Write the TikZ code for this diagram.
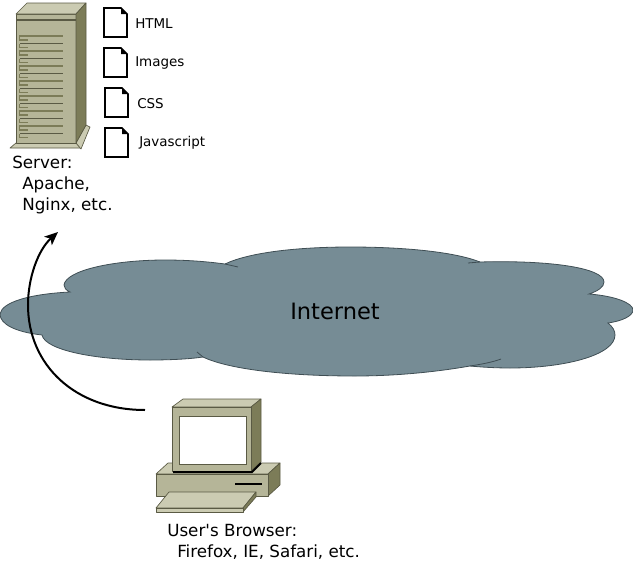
\documentclass[tikz,border=0pt]{standalone}
\usepackage{fontspec}
\setmainfont{DejaVu Sans}
\usepackage{tikz}
\usetikzlibrary{arrows.meta}
\definecolor{cloudgray}{HTML}{768C95}
\definecolor{cloudline}{HTML}{3F4E54}
\definecolor{boxfront}{HTML}{B5B598}
\definecolor{boxtop}{HTML}{CBCBB2}
\definecolor{boxside}{HTML}{7C7C58}
\definecolor{boxline}{HTML}{5A5A44}
\tikzset{
    front/.style={fill=boxfront, draw=boxline, line width=0.5pt, line join=round},
    top/.style={fill=boxtop, draw=boxline, line width=0.5pt, line join=round},
    side/.style={fill=boxside, draw=boxline, line width=0.5pt, line join=round},
    doc/.style={fill=white, draw=black, line width=1.3pt, line join=miter},
    biglabel/.style={anchor=north west, align=left, inner sep=0pt, font=\fontsize{12.55}{15.75}\selectfont},
    smalllabel/.style={anchor=west, inner sep=0pt, font=\fontsize{10.1}{12}\selectfont}
}
\begin{document}
\begin{tikzpicture}[x=0.75pt, y=-0.75pt]
    \useasboundingbox (0, 0) rectangle (633, 561);
    % cloud
    \draw[fill=cloudgray, draw=cloudline, line width=0.6pt]
        (0, 314) .. controls (2, 302) and (30, 294) .. (70, 292)
        .. controls (66, 290) and (64, 288) .. (64, 285)
        .. controls (66, 270) and (115, 260) .. (165, 260)
        .. controls (190, 260) and (210, 262) .. (225, 264)
        .. controls (250, 252) and (300, 247) .. (350, 247)
        .. controls (405, 247) and (455, 252) .. (480, 262)
        .. controls (550, 260) and (604, 268) .. (604, 282)
        .. controls (604, 287) and (598, 291) .. (589, 294)
        .. controls (615, 296) and (633, 303) .. (633, 310)
        .. controls (633, 316) and (622, 321) .. (608, 323)
        .. controls (613, 327) and (615, 331) .. (615, 335)
        .. controls (615, 355) and (565, 368) .. (510, 368)
        .. controls (495, 368) and (480, 367) .. (470, 366)
        .. controls (430, 373) and (390, 376) .. (355, 376)
        .. controls (285, 376) and (228, 369) .. (203, 357)
        .. controls (190, 359) and (170, 360) .. (150, 360)
        .. controls (95, 360) and (45, 350) .. (42, 335)
        .. controls (15, 332) and (0, 324) .. (0, 314) -- cycle;
    \draw[draw=cloudline, line width=0.6pt] (225, 264) -- (238, 267);
    \draw[draw=cloudline, line width=0.6pt] (480, 262) -- (468, 263);
    \draw[draw=cloudline, line width=0.6pt] (203, 357) -- (197, 352);
    \draw[draw=cloudline, line width=0.6pt] (470, 366) .. controls (483, 364) and (493, 362) .. (501, 359);
    \node[inner sep=0pt, font=\fontsize{16.9}{20}\selectfont] (internet) at (335, 311) {Internet};
    % server
    \draw[top] (10, 148) -- (16, 143) -- (76, 143) -- (81, 148) -- cycle;
    \draw[top] (76, 143) -- (86, 125) -- (90, 127) -- (81, 149) -- cycle;
    \draw[front] (16, 14) rectangle (76, 143);
    \draw[top] (16, 14) -- (27, 3) -- (86, 3) -- (76, 14) -- cycle;
    \draw[side] (76, 14) -- (86, 3) -- (86, 125) -- (76, 143) -- cycle;
    \draw[boxline, line width=1.2pt] (16, 20) -- (76, 20);
    \foreach \y in {36, 51, 66, 81, 96, 111, 126} {
        \draw[boxside, line width=0.9pt] (28, \y + 4) -- (19.5, \y + 4) -- (19.5, \y) -- (63, \y);
        \draw[boxside, line width=0.9pt] (28, \y + 11.5) -- (19.5, \y + 11.5) -- (19.5, \y + 7.5);
        \draw[boxline, line width=0.7pt] (19.5, \y + 7.5) -- (63, \y + 7.5);
    }
    \node[biglabel] (server) at (12, 156) {Server:\\\hspace{7.5pt}Apache,\\\hspace{7.5pt}Nginx, etc.};
    % documents
    \foreach \x/\y in {104/8, 104/48, 105/88, 105/128} {
        \draw[doc] (\x, \y) -- (\x + 17, \y) -- (\x + 23, \y + 6) -- (\x + 23, \y + 29) -- (\x, \y + 29) -- cycle;
        \fill (\x + 17, \y) -- (\x + 23, \y + 6) -- (\x + 17, \y + 6) -- cycle;
    }
    \node[smalllabel] (html) at (135, 24) {HTML};
    \node[smalllabel] (images) at (135, 63) {Images};
    \node[smalllabel] (css) at (137, 104) {CSS};
    \node[smalllabel] (javascript) at (139, 143) {Javascript};
    % computer
    \draw[top] (156, 474) -- (168, 463) -- (280, 463) -- (268, 474) -- cycle;
    \draw[side] (268, 474) -- (280, 463) -- (280, 485) -- (268, 496) -- cycle;
    \draw[front] (156, 474) rectangle (268, 496);
    \draw[black, line width=1.5pt] (235, 484) -- (262, 484);
    \draw[top] (169, 492) -- (256, 492) -- (243, 508) -- (156, 508) -- cycle;
    \draw[side] (256, 492) -- (256, 497) -- (243, 512) -- (243, 508) -- cycle;
    \draw[top] (156, 508) rectangle (243, 512);
    \draw[top] (172, 407) -- (183, 399) -- (261, 399) -- (251, 407) -- cycle;
    \draw[side] (251, 407) -- (261, 399) -- (261, 462) -- (251, 471) -- cycle;
    \draw[front] (172, 407) rectangle (251, 471);
    \draw[black, line width=1.5pt] (173, 472) -- (252, 472) -- (261, 463);
    \draw[fill=white, draw=boxline, line width=0.5pt] (179, 416) rectangle (246, 464);
    \node[biglabel] (browser) at (167, 524) {User\textquotesingle s Browser:\\\hspace{7.5pt}Firefox, IE, Safari, etc.};
    % request
    \coordinate (from) at (145, 410);
    \coordinate (to) at (58, 232);
    \draw[-{Stealth[length=10pt, width=8.5pt, inset=2.5pt]}, black, line width=1.5pt] (from) .. controls (75, 410) and (28, 365) .. (28, 305) .. controls (28, 278) and (38, 250) .. (to);
\end{tikzpicture}
\end{document}
